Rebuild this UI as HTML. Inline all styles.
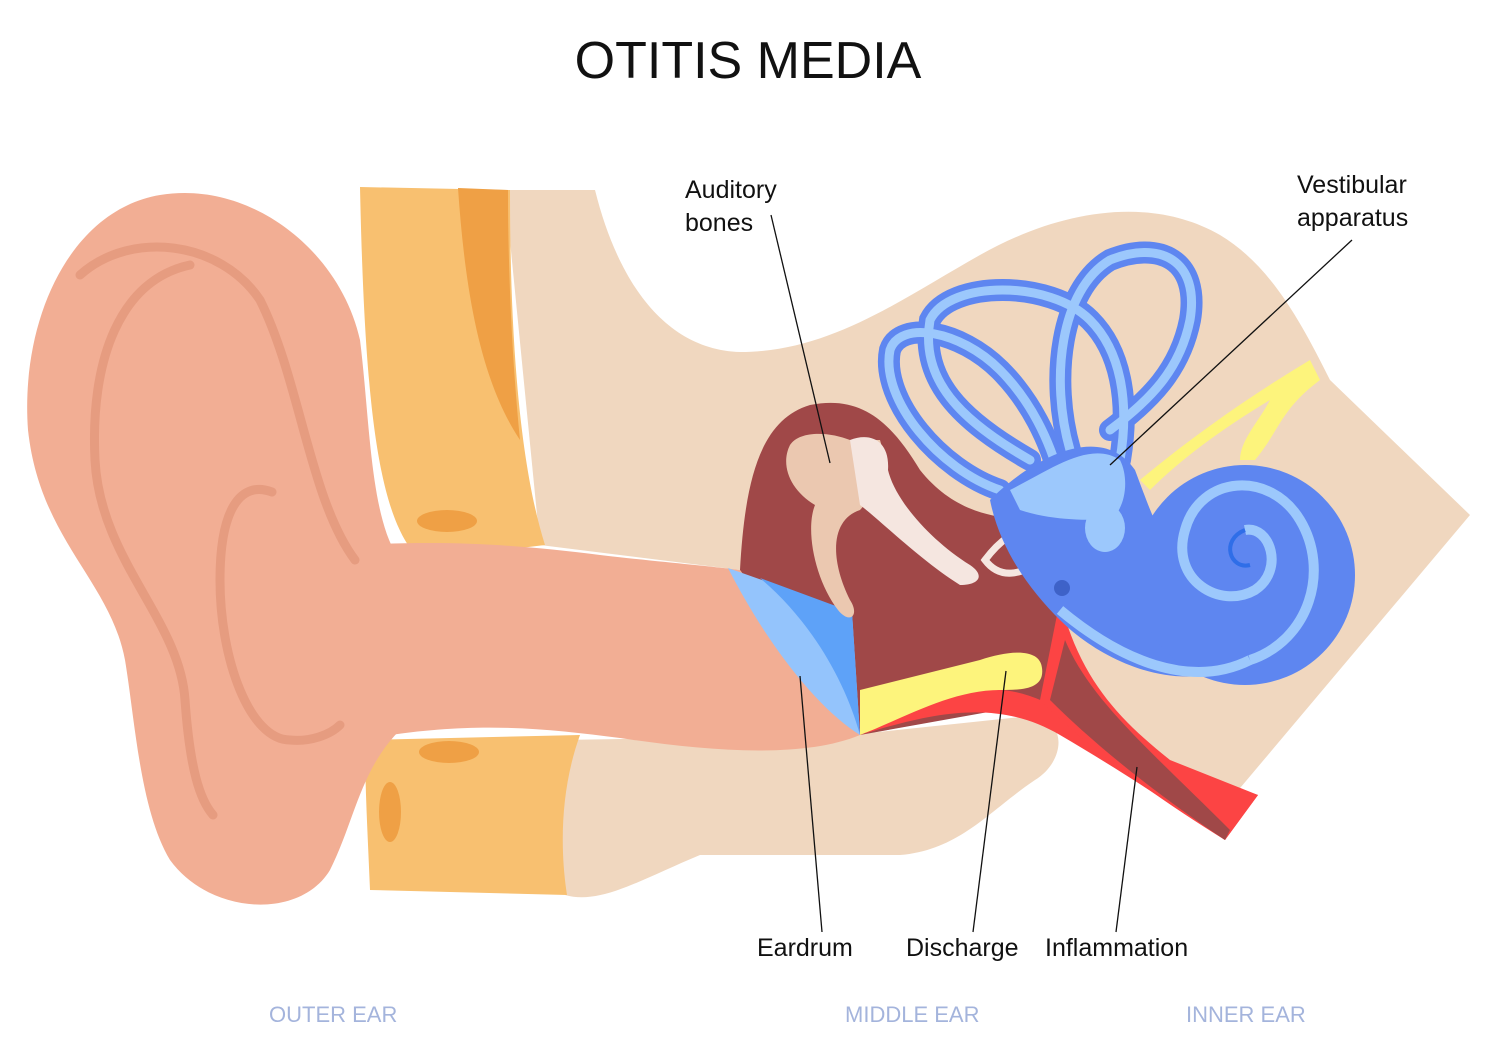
<!DOCTYPE html>
<html><head><meta charset="utf-8"><style>
html,body{margin:0;padding:0;background:#fff;}
svg{display:block;}
text{font-family:"Liberation Sans",sans-serif;}
</style></head><body>
<svg width="1500" height="1056" viewBox="0 0 1500 1056" xmlns="http://www.w3.org/2000/svg">
<rect width="1500" height="1056" fill="#fff"/>
<text x="748" y="78" font-size="52" text-anchor="middle" fill="#111">OTITIS MEDIA</text>

<!-- beige bone upper -->
<path d="M505,190 L595,190 C620,290 670,350 740,352 C830,352 900,300 980,255 C1060,210 1150,195 1220,235 C1270,265 1300,320 1330,380 L1470,515 L1230,800 L1050,700 L860,735 L740,570 L540,545 Z" fill="#f0d7bf"/>
<!-- lower beige block -->
<path d="M560,740 L850,735 L1040,715 C1070,730 1060,765 1035,780 C990,810 960,850 900,855 L700,855 C640,880 600,905 565,895 C545,850 540,780 560,740 Z" fill="#f0d7bf"/>
<!-- orange skin upper -->
<path d="M360,187 L510,190 C510,300 515,450 545,545 L420,560 C380,520 365,420 360,187 Z" fill="#f8c070"/>
<path d="M458,188 L508,190 C508,270 512,360 520,440 C480,380 465,290 458,188 Z" fill="#efa045"/>
<ellipse cx="447" cy="521" rx="30" ry="11" fill="#efa045"/>
<!-- orange lower -->
<path d="M365,740 L580,735 C560,790 560,850 567,895 L370,890 C368,840 365,790 365,740 Z" fill="#f8c070"/>
<ellipse cx="449" cy="752" rx="30" ry="11" fill="#efa045"/>
<ellipse cx="390" cy="812" rx="11" ry="30" fill="#efa045"/>

<!-- middle ear cavity -->
<path d="M740,570 C745,480 760,420 810,405 C860,395 890,420 920,470 C960,520 1010,520 1055,520 C1070,580 1065,650 1055,700 L860,735 Z" fill="#a04848"/>

<!-- pinna -->
<path d="M160,195 C250,180 340,250 360,340 C370,420 370,520 400,560 L400,730 C360,770 355,820 330,870 C300,920 210,915 170,860 C140,810 135,720 125,660 C110,580 40,540 28,430 C20,320 70,210 160,195 Z" fill="#f2ae94"/>
<!-- canal -->
<path d="M360,545 C450,540 520,545 600,555 C660,562 700,565 740,570 L860,735 C800,760 700,750 620,738 C540,728 470,720 360,740 Z" fill="#f2ae94"/>
<!-- pinna details -->
<g fill="none" stroke="#e69c80" stroke-width="9" stroke-linecap="round">
<path d="M80,275 C130,230 220,240 260,300 C300,380 310,500 355,560"/>
<path d="M190,265 C120,280 90,360 95,460 C100,560 180,620 185,700 C190,770 200,800 213,815"/>
<path d="M272,492 C240,480 220,510 220,580 C220,660 250,740 290,740 C310,742 330,735 340,725"/>
</g>

<!-- eardrum -->
<path d="M728,568 L852,612 L860,735 C820,710 770,650 728,568 Z" fill="#94c4fc"/>
<path d="M760,578 L852,612 L860,735 C845,680 810,620 760,578 Z" fill="#5ea2f8"/>

<!-- discharge -->
<path d="M860,690 C900,680 940,670 980,660 C1010,650 1040,648 1042,668 C1045,690 1020,690 1000,690 C960,695 900,720 860,735 Z" fill="#fdf47c"/>
<!-- inflammation -->
<path d="M860,735 C900,720 950,690 1000,690 C1040,692 1080,720 1130,755 L1258,795 L1225,840 C1180,810 1120,770 1060,735 C1000,700 940,710 860,735 Z" fill="#fc4444"/>
<path d="M1060,600 C1080,680 1120,720 1170,760 L1258,795 L1225,840 C1160,800 1090,750 1040,700 Z" fill="#fc4444"/>
<path d="M1065,640 C1090,700 1150,750 1230,830 L1225,840 C1150,790 1090,740 1050,700 Z" fill="#a04848"/>

<!-- yellow nerve -->
<path d="M1140,480 C1200,430 1260,390 1310,360 L1320,380 C1280,410 1280,430 1255,460 L1240,460 C1240,440 1260,420 1270,400 C1220,430 1180,460 1150,490 Z" fill="#fdf47c"/>

<!-- ossicles -->
<path d="M790,445 C800,430 830,432 850,440 L880,440 C890,470 870,500 860,510 C830,520 830,560 850,600 C860,615 850,625 838,610 C815,580 805,530 815,505 C790,490 780,465 790,445 Z" fill="#ebc8b0"/>
<path d="M850,440 C870,432 890,440 888,470 C895,500 930,540 970,565 C985,575 980,585 960,585 C920,560 880,520 860,505 Z" fill="#f5e6e0"/>
<path d="M985,560 C1000,540 1015,530 1035,525 L1045,560 C1020,575 1000,580 985,560 Z" fill="none" stroke="#f5e6e0" stroke-width="7"/>
<ellipse cx="1030" cy="545" rx="15" ry="20" fill="#ebc8b0"/>

<!-- semicircular canals -->
<g fill="none" stroke="#5e86f0" stroke-width="22" stroke-linecap="round">
<path d="M1000,490 C940,470 880,400 890,350 C900,320 960,330 1000,370 C1030,400 1050,440 1060,480"/>
<path d="M1030,460 C960,420 920,380 930,320 C950,280 1050,280 1090,320 C1120,350 1130,400 1120,460"/>
<path d="M1070,450 C1050,380 1060,290 1110,260 C1160,240 1200,260 1190,320 C1180,370 1150,400 1110,430"/>
</g>
<g fill="none" stroke="#9cc8fc" stroke-width="9" stroke-linecap="round">
<path d="M1000,490 C940,470 880,400 890,350 C900,320 960,330 1000,370 C1030,400 1050,440 1060,480"/>
<path d="M1030,460 C960,420 920,380 930,320 C950,280 1050,280 1090,320 C1120,350 1130,400 1120,460"/>
<path d="M1070,450 C1050,380 1060,290 1110,260 C1160,240 1200,260 1190,320 C1180,370 1150,400 1110,430"/>
</g>
<!-- vestibule + cochlea base -->
<path d="M990,500 C1030,460 1100,420 1135,470 C1150,510 1160,540 1180,560 L1250,660 C1180,700 1100,660 1060,620 C1030,590 1000,550 990,500 Z" fill="#5e86f0"/>
<circle cx="1245" cy="575" r="110" fill="#5e86f0"/>
<path d="M1060,610 C1120,660 1190,690 1250,660" fill="none" stroke="#9cc8fc" stroke-width="10"/>
<g fill="none" stroke="#9cc8fc" stroke-width="10">
<path d="M1250,660 C1310,640 1330,570 1300,520 C1270,470 1200,475 1185,530 C1170,580 1220,610 1255,590 C1285,570 1270,525 1245,530"/>
</g>
<path d="M1245,530 C1220,540 1230,570 1250,565" fill="none" stroke="#2f6ee8" stroke-width="4"/>
<path d="M1010,490 C1050,470 1090,440 1120,460 C1130,480 1125,510 1110,520 C1080,520 1050,520 1020,510 Z" fill="#9cc8fc"/>
<ellipse cx="1105" cy="528" rx="20" ry="24" fill="#9cc8fc"/>
<circle cx="1062" cy="588" r="8" fill="#3e62c8"/>

<!-- leader lines -->
<g stroke="#111" stroke-width="1.3">
<line x1="771" y1="215" x2="830" y2="463"/>
<line x1="1352" y1="240" x2="1110" y2="465"/>
<line x1="800" y1="676" x2="822" y2="932"/>
<line x1="1006" y1="671" x2="973" y2="932"/>
<line x1="1137" y1="767" x2="1116" y2="932"/>
</g>

<g font-size="25" fill="#111">
<text x="685" y="198">Auditory</text>
<text x="685" y="231">bones</text>
<text x="1297" y="193">Vestibular</text>
<text x="1297" y="226">apparatus</text>
<text x="757" y="956">Eardrum</text>
<text x="906" y="956">Discharge</text>
<text x="1045" y="956">Inflammation</text>
</g>
<g font-size="22" fill="#a4b4dc">
<text x="269" y="1022">OUTER EAR</text>
<text x="845" y="1022">MIDDLE EAR</text>
<text x="1186" y="1022">INNER EAR</text>
</g>
</svg>
</body></html>
